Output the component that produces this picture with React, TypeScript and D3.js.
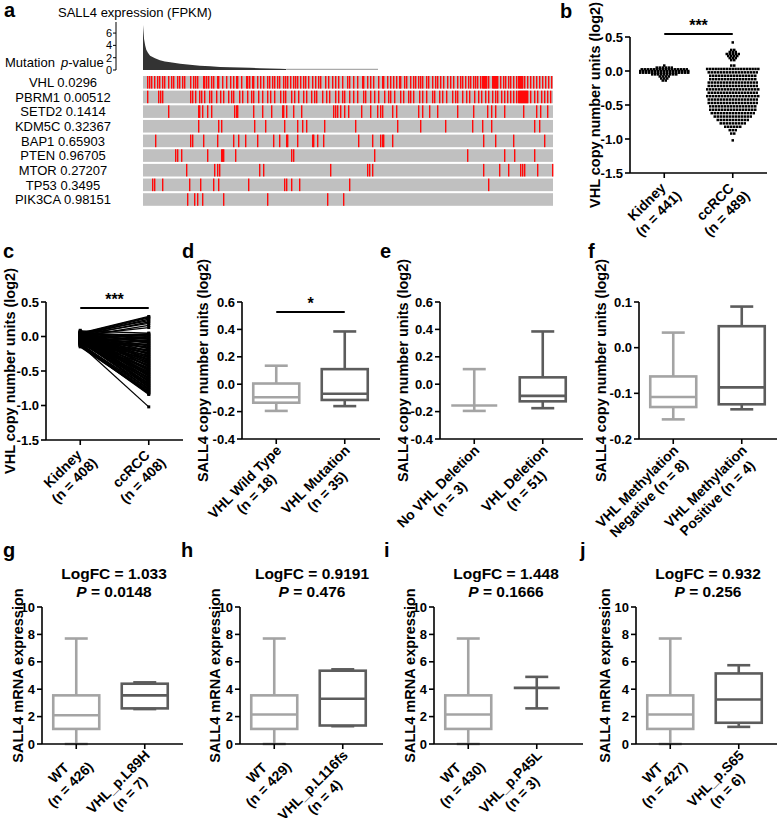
import React from "react";
import * as d3 from "d3";

const FONT = "Arial, 'Liberation Sans', Helvetica, sans-serif";
const LIGHT = "#a4a4a4";
const DARK = "#5c5c5c";

// ---------------- Panel a data ----------------
const exprRank = [0, 2, 4, 6, 9, 13, 22, 31, 40, 50, 68, 86, 104, 123, 141, 159, 178, 196, 214, 232, 251, 262];
const exprValue = [7.3, 5.0, 4.0, 3.3, 2.8, 2.3, 1.9, 1.6, 1.4, 1.25, 1.0, 0.85, 0.7, 0.6, 0.5, 0.45, 0.4, 0.35, 0.3, 0.25, 0.2, 0.15];
const exprSampleCount = 430;
const exprTicks = [0, 2, 4, 6];

const mutGenes = ["VHL", "PBRM1", "SETD2", "KDM5C", "BAP1", "PTEN", "MTOR", "TP53", "PIK3CA"];
const mutPValues = ["0.0296", "0.00512", "0.1414", "0.32367", "0.65903", "0.96705", "0.27207", "0.3495", "0.98151"];
const mutSampleCount = 410;
const mutVHL = [4, 6, 8, 11, 14, 16, 19, 21, 25, 28, 30, 34, 36, 39, 41, 47, 50, 52, 54, 60, 61, 63, 65, 68, 70, 74, 75, 79, 83, 87, 90, 93, 94, 98, 103, 104, 106, 109, 110, 114, 117, 120, 124, 126, 129, 131, 134, 136, 140, 142, 144, 147, 150, 152, 154, 157, 160, 162, 165, 169, 172, 175, 177, 182, 185, 189, 192, 195, 199, 204, 206, 210, 214, 219, 220, 224, 227, 230, 235, 239, 240, 244, 247, 250, 253, 256, 257, 261, 263, 267, 270, 272, 275, 277, 279, 283, 285, 289, 292, 294, 297, 300, 304, 307, 310, 314, 317, 319, 322, 325, 327, 330, 332, 334, 337, 339, 340, 341, 342, 343, 345, 349, 350, 351, 352, 353, 354, 357, 360, 362, 365, 367, 370, 373, 375, 376, 377, 378, 379, 381, 384, 387, 390, 393, 396, 399, 402, 405, 408];
const mutPBRM1 = [4, 15, 17, 19, 47, 49, 52, 56, 58, 61, 66, 68, 73, 77, 80, 85, 88, 90, 96, 99, 104, 108, 110, 115, 119, 124, 127, 131, 137, 140, 142, 148, 151, 155, 160, 163, 168, 171, 173, 179, 183, 186, 192, 195, 199, 201, 206, 210, 214, 220, 222, 227, 231, 235, 241, 245, 247, 251, 257, 260, 265, 267, 270, 276, 279, 283, 289, 291, 296, 299, 303, 309, 312, 314, 319, 323, 326, 331, 335, 338, 342, 345, 349, 352, 354, 358, 361, 364, 367, 370, 373, 375, 376, 377, 378, 379, 380, 381, 382, 383, 384, 387, 391, 394, 398, 401, 404, 407];
const mutSETD2 = [25, 55, 56, 59, 64, 68, 91, 93, 94, 110, 119, 128, 139, 140, 143, 150, 158, 190, 192, 194, 197, 201, 205, 218, 227, 234, 237, 239, 249, 253, 275, 279, 286, 294, 314, 330, 344, 348, 352, 361, 380, 393, 397, 404];
const mutKDM5C = [55, 75, 78, 111, 122, 141, 154, 159, 163, 181, 212, 254, 277, 302, 329, 339, 348, 391, 396];
const mutBAP1 = [12, 47, 49, 60, 74, 90, 95, 102, 114, 130, 136, 143, 144, 154, 169, 170, 174, 180, 215, 229, 237, 239, 240, 249, 340, 352, 370, 401];
const mutPTEN = [32, 34, 38, 64, 78, 79, 80, 92, 148, 150, 231, 324, 361, 371, 391];
const mutMTOR = [43, 71, 74, 76, 116, 120, 187, 224, 226, 229, 340, 356, 365, 377, 379, 381, 394, 409];
const mutTP53 = [9, 11, 19, 46, 57, 70, 75, 105, 141, 143, 148, 156, 206, 345];
const mutPIK3CA = [44, 51, 54, 59, 80, 124, 184, 200];
const mutRows = [mutVHL, mutPBRM1, mutSETD2, mutKDM5C, mutBAP1, mutPTEN, mutMTOR, mutTP53, mutPIK3CA];

// ---------------- Panel b data ----------------
const vhlTicks = [-1.5, -1.0, -0.5, 0.0, 0.5];
const bCats = [["Kidney", "(n = 441)"], ["ccRCC", "(n = 489)"]];
const bKidneyVals = [0.08, 0.05, 0.025, 0.0, -0.025, -0.05, -0.08, -0.11, -0.14];
const bKidneyCounts = [1, 6, 16, 17, 17, 9, 4, 3, 2];
const bCcrccVals = [0.42, 0.31, 0.28, 0.25, 0.22, 0.19, 0.16, 0.08, 0.03, -0.02, -0.07, -0.12, -0.17, -0.22, -0.27, -0.32, -0.37, -0.42, -0.47, -0.52, -0.57, -0.62, -0.67, -0.72, -0.77, -0.82, -0.87, -0.92, -1.02];
const bCcrccCounts = [1, 2, 3, 5, 4, 3, 2, 2, 19, 17, 16, 16, 17, 17, 18, 17, 18, 17, 17, 16, 16, 15, 13, 11, 9, 6, 3, 2, 1];

// ---------------- Panel c data (paired) ----------------
const cCats = [["Kidney", "(n = 408)"], ["ccRCC", "(n = 408)"]];
const cKidney = [
  0.05, 0.04, 0.03, 0.02, 0.04, 0.01, 0.03, 0.0, 0.02,
  0.08, -0.02, 0.03, -0.05, 0.0, 0.06, -0.08, 0.02, -0.04, 0.05, -0.1, 0.01, -0.06, 0.04, -0.03, 0.07, -0.09, 0.0, -0.05, 0.03,
  -0.07, 0.02, -0.02, 0.05, -0.11, 0.0, -0.04, 0.06, -0.08, 0.01, -0.03, 0.04, -0.1, -0.02, 0.03, -0.06, 0.0, -0.09, 0.02, -0.05,
  0.09, -0.01, 0.04, -0.06, 0.01, 0.05, -0.07, 0.03, -0.03, 0.06, -0.09, 0.0, -0.05, 0.02, -0.02, 0.07, -0.08, 0.01, -0.04, 0.04,
  -0.06, 0.03, -0.01, 0.05, -0.1, 0.01, -0.03, 0.05, -0.07, 0.0, -0.02, 0.03, -0.09, -0.03, 0.02, -0.05, -0.01, -0.08, 0.01, -0.04,
  -0.12, -0.07, -0.03, -0.1, -0.13, -0.11, -0.14, -0.15, -0.12, -0.13,
  -0.12,
];
const cCcrcc = [
  0.29, 0.28, 0.27, 0.25, 0.23, 0.21, 0.19, 0.16, 0.13,
  0.05, 0.04, 0.03, 0.02, 0.01, 0.0, -0.01, -0.02, -0.03, -0.04, -0.05, -0.06, -0.07, -0.08, -0.09, -0.1, -0.11, -0.12, -0.13, -0.14,
  -0.15, -0.16, -0.17, -0.18, -0.19, -0.2, -0.21, -0.22, -0.23, -0.24, -0.25, -0.26, -0.27, -0.28, -0.29, -0.3, -0.31, -0.32, -0.33, -0.34,
  -0.35, -0.36, -0.37, -0.38, -0.39, -0.4, -0.41, -0.42, -0.43, -0.44, -0.45, -0.46, -0.47, -0.48, -0.49, -0.5, -0.51, -0.52, -0.53, -0.54,
  -0.55, -0.56, -0.57, -0.58, -0.59, -0.6, -0.61, -0.62, -0.63, -0.64, -0.65, -0.66, -0.67, -0.68, -0.69, -0.7, -0.71, -0.72, -0.73, -0.74,
  -0.75, -0.76, -0.77, -0.78, -0.79, -0.8, -0.81, -0.82, -0.83, -0.84,
  -1.02,
];

// ---------------- Panels d-f data ----------------
const copyTicks = [-0.4, -0.2, 0.0, 0.2, 0.4, 0.6];
const methTicks = [-0.2, -0.1, 0.0, 0.1];
const dCats = [["VHL Wild Type", "(n = 18)"], ["VHL Mutation", "(n = 35)"]];
const dStats = [[-0.195, -0.135, -0.095, 0.005, 0.135], [-0.16, -0.115, -0.07, 0.11, 0.385]];
const eCats = [["No VHL Deletion", "(n = 3)"], ["VHL Deletion", "(n = 51)"]];
const eStats = [[-0.195, -0.155, -0.155, -0.155, 0.11], [-0.175, -0.125, -0.085, 0.05, 0.385]];
const fCats = [["VHL Methylation", "Negative (n = 8)"], ["VHL Methylation", "Positive (n = 4)"]];
const fStats = [[-0.157, -0.13, -0.108, -0.063, 0.033], [-0.135, -0.124, -0.087, 0.047, 0.09]];

// ---------------- Panels g-j data ----------------
const mrnaTicks = [0, 2, 4, 6, 8, 10];
const gCats = [["WT", "(n = 426)"], ["VHL_p.L89H", "(n = 7)"]];
const gStats = [[0, 1.1, 2.1, 3.55, 7.7], [2.55, 2.6, 3.55, 4.4, 4.5]];
const gTitle = ["1.033", "0.0148"];
const hCats = [["WT", "(n = 429)"], ["VHL_p.L116fs", "(n = 4)"]];
const hStats = [[0, 1.1, 2.15, 3.55, 7.7], [1.3, 1.35, 3.3, 5.35, 5.45]];
const hTitle = ["0.9191", "0.476"];
const iCats = [["WT", "(n = 430)"], ["VHL_p.P45L", "(n = 3)"]];
const iStats = [[0, 1.1, 2.15, 3.55, 7.7], [2.6, 4.1, 4.1, 4.1, 4.9]];
const iTitle = ["1.448", "0.1666"];
const jCats = [["WT", "(n = 427)"], ["VHL_p.S65", "(n = 6)"]];
const jStats = [[0, 1.1, 2.15, 3.55, 7.7], [1.25, 1.55, 3.25, 5.15, 5.75]];
const jTitle = ["0.932", "0.256"];

// ---------------- helpers ----------------
let _ctx: any = null;
function tw(s: string, font: string): number {
  if (!_ctx) _ctx = document.createElement("canvas").getContext("2d");
  _ctx.font = font;
  return _ctx.measureText(s).width;
}

const fmt1 = (v: number) => v.toFixed(1);
const fmt0 = (v: number) => String(v);

function CatLabel({ x, y, lines }: { x: number; y: number; lines: string[] }) {
  const fs = 14;
  const W = Math.max(...lines.map((l) => tw(l, `bold ${fs}px ${FONT}`)));
  return (
    <g transform={`translate(${x},${y}) rotate(-45)`}>
      {lines.map((l, i) => (
        <text key={i} x={-W / 2 - 1.5} y={10 + i * 16.5} textAnchor="middle" fontSize={fs} fontWeight="bold">
          {l}
        </text>
      ))}
    </g>
  );
}

type PanelProps = {
  ax: number;
  yTop: number;
  yBot: number;
  domain: [number, number];
  ticks: number[];
  fmt: (v: number) => string;
  xEnd: number;
  cats: string[][];
  ylabel: string;
  ylx: number;
  content: (y: d3.ScaleLinear<number, number>, xs: (i: number) => number) => React.ReactNode;
};

function Panel({ ax, yTop, yBot, domain, ticks, fmt, xEnd, cats, ylabel, ylx, content }: PanelProps) {
  const y = d3.scaleLinear().domain(domain).range([yBot, yTop]);
  const xp = d3.scalePoint<number>().domain(cats.map((_, i) => i)).range([ax, ax + 137]).padding(0.5);
  const xs = (i: number) => xp(i) as number;
  const sw = 1.6;
  return (
    <g>
      {content(y, xs)}
      <line x1={ax} x2={ax} y1={yTop} y2={yBot} stroke="#000" strokeWidth={sw} />
      <line x1={ax} x2={xEnd} y1={yBot} y2={yBot} stroke="#000" strokeWidth={sw} />
      {ticks.map((t) => (
        <g key={t}>
          <line x1={ax - 5} x2={ax} y1={y(t)} y2={y(t)} stroke="#000" strokeWidth={sw} />
          <text x={ax - 7} y={y(t)} dy="0.36em" textAnchor="end" fontSize={13} fontWeight="bold">
            {fmt(t)}
          </text>
        </g>
      ))}
      {cats.map((c, i) => (
        <g key={i}>
          <line x1={xs(i)} x2={xs(i)} y1={yBot} y2={yBot + 5} stroke="#000" strokeWidth={sw} />
          <CatLabel x={xs(i)} y={yBot + 4} lines={c} />
        </g>
      ))}
      <text
        transform={`translate(${ylx},${(yTop + yBot) / 2}) rotate(-90)`}
        textAnchor="middle"
        dy="0.36em"
        fontSize={14.5}
        fontWeight="bold"
      >
        {ylabel}
      </text>
    </g>
  );
}

function Box({ cx, y, s, color }: { cx: number; y: d3.ScaleLinear<number, number>; s: number[]; color: string }) {
  const [lo, q1, med, q3, hi] = s;
  const w = 46;
  const cap = 23;
  return (
    <g stroke={color} strokeWidth={2.6} fill="none">
      <line x1={cx} x2={cx} y1={y(hi)} y2={y(q3)} />
      <line x1={cx} x2={cx} y1={y(q1)} y2={y(lo)} />
      <line x1={cx - cap / 2} x2={cx + cap / 2} y1={y(hi)} y2={y(hi)} />
      <line x1={cx - cap / 2} x2={cx + cap / 2} y1={y(lo)} y2={y(lo)} />
      {q3 > q1 && <rect x={cx - w / 2} y={y(q3)} width={w} height={y(q1) - y(q3)} />}
      <line x1={cx - w / 2} x2={cx + w / 2} y1={y(med)} y2={y(med)} />
    </g>
  );
}

function SigBar({ x1, x2, yy, label }: { x1: number; x2: number; yy: number; label: string }) {
  return (
    <g>
      <line x1={x1} x2={x2} y1={yy} y2={yy} stroke="#000" strokeWidth={2} />
      <text x={(x1 + x2) / 2} y={yy - 3} textAnchor="middle" fontSize={16} fontWeight="bold">
        {label}
      </text>
    </g>
  );
}

function Swarm({ cx, y, vals, counts }: { cx: number; y: d3.ScaleLinear<number, number>; vals: number[]; counts: number[] }) {
  const out: React.ReactNode[] = [];
  vals.forEach((v, k) => {
    const n = counts[k];
    const sp = Math.min(3, 54 / n);
    for (let j = 0; j < n; j++) {
      const px = cx + (j - (n - 1) / 2) * sp;
      out.push(<rect key={`${k}-${j}`} x={px - 1.25} y={y(v) - 1.25} width={2.5} height={2.5} fill="#000" />);
    }
  });
  return <g>{out}</g>;
}

function MrnaPanel({ ax, ylx, xEnd, cats, stats, title }: { ax: number; ylx: number; xEnd: number; cats: string[][]; stats: number[][]; title: string[] }) {
  const cx = ax + 72;
  return (
    <g>
      <text x={cx} y={579} textAnchor="middle" fontSize={15.5} fontWeight="bold">
        {"LogFC = " + title[0]}
      </text>
      <text x={cx} y={597} textAnchor="middle" fontSize={15.5} fontWeight="bold">
        <tspan fontStyle="italic">P</tspan>
        {" = " + title[1]}
      </text>
      <Panel
        ax={ax}
        yTop={607}
        yBot={744}
        domain={[0, 10]}
        ticks={mrnaTicks}
        fmt={fmt0}
        xEnd={xEnd}
        cats={cats}
        ylabel="SALL4 mRNA expression"
        ylx={ylx}
        content={(y, xs) => (
          <g>
            <Box cx={xs(0)} y={y} s={stats[0]} color={LIGHT} />
            <Box cx={xs(1)} y={y} s={stats[1]} color={DARK} />
          </g>
        )}
      />
    </g>
  );
}

function PanelA() {
  const xe = d3.scaleLinear().domain([0, exprSampleCount]).range([143, 378]);
  const ye = d3.scaleLinear().domain([0, 7.8]).range([70, 22]);
  const area = d3
    .area<number>()
    .x((_, i) => xe(exprRank[i]))
    .y0(ye(0))
    .y1((d) => ye(d));
  const xm = d3.scaleLinear().domain([0, mutSampleCount]).range([143, 553]);
  const rowTop = (r: number) => 76 + r * 14.65;
  const rowH = 12.6;
  return (
    <g>
      <text x={58} y={17} fontSize={13}>SALL4 expression (FPKM)</text>
      <line x1={116} x2={116} y1={22} y2={70} stroke="#000" strokeWidth={1} />
      {exprTicks.map((t) => (
        <g key={t}>
          <line x1={113} x2={116} y1={ye(t)} y2={ye(t)} stroke="#000" strokeWidth={1} />
          <text x={112} y={ye(t)} dy="0.36em" textAnchor="end" fontSize={11}>
            {t}
          </text>
        </g>
      ))}
      <path d={area(exprValue) as string} fill="#333" />
      <line x1={xe(exprRank[exprRank.length - 1])} x2={xe(exprSampleCount)} y1={69.4} y2={69.4} stroke="#aaa" strokeWidth={1.4} />
      <text x={5} y={67} fontSize={13}>Mutation</text>
      <text x={61} y={67} fontSize={13}>
        <tspan fontStyle="italic">p</tspan>-value
      </text>
      {mutGenes.map((g, r) => (
        <g key={g}>
          <text x={63} y={rowTop(r) + rowH / 2} dy="0.36em" textAnchor="middle" fontSize={13}>
            {g + "  " + mutPValues[r]}
          </text>
          <rect x={xm(0)} y={rowTop(r)} width={xm(mutSampleCount) - xm(0)} height={rowH} fill="#c0c0c0" />
          {mutRows[r].map((s) => (
            <rect key={s} x={xm(s)} y={rowTop(r)} width={1.4} height={rowH} fill="#ff0a0a" />
          ))}
        </g>
      ))}
    </g>
  );
}

export default function App() {
  return (
    <svg
      width={778}
      height={818}
      viewBox="0 0 778 818"
      style={{ position: "absolute", left: 0, top: 0, background: "#fff" }}
      fontFamily={FONT}
    >
      <rect x={0} y={0} width={778} height={818} fill="#fff" />
      {[
        ["a", 4, 17],
        ["b", 560, 18],
        ["c", 3, 258],
        ["d", 182, 258],
        ["e", 380, 258],
        ["f", 588, 258],
        ["g", 3, 557],
        ["h", 181, 557],
        ["i", 384, 557],
        ["j", 580, 557],
      ].map(([t, x, yy]) => (
        <text key={t as string} x={x as number} y={yy as number} fontSize={20} fontWeight="bold">
          {t}
        </text>
      ))}

      <PanelA />

      <Panel
        ax={630}
        yTop={37}
        yBot={173}
        domain={[-1.5, 0.5]}
        ticks={vhlTicks}
        fmt={fmt1}
        xEnd={767}
        cats={bCats}
        ylabel="VHL copy number units (log2)"
        ylx={595}
        content={(y, xs) => (
          <g>
            <Swarm cx={xs(0)} y={y} vals={bKidneyVals} counts={bKidneyCounts} />
            <Swarm cx={xs(1)} y={y} vals={bCcrccVals} counts={bCcrccCounts} />
            <SigBar x1={xs(0)} x2={xs(1)} yy={34} label="***" />
          </g>
        )}
      />

      <Panel
        ax={46}
        yTop={302}
        yBot={440}
        domain={[-1.5, 0.5]}
        ticks={vhlTicks}
        fmt={fmt1}
        xEnd={183}
        cats={cCats}
        ylabel="VHL copy number units (log2)"
        ylx={10}
        content={(y, xs) => (
          <g>
            {cKidney.map((k, i) => (
              <line key={i} x1={xs(0)} x2={xs(1)} y1={y(k)} y2={y(cCcrcc[i])} stroke="#000" strokeWidth={1.3} />
            ))}
            {cKidney.map((k, i) => (
              <rect key={"k" + i} x={xs(0) - 1.5} y={y(k) - 1.5} width={3} height={3} fill="#000" />
            ))}
            {cCcrcc.map((k, i) => (
              <rect key={"c" + i} x={xs(1) - 1.5} y={y(k) - 1.5} width={3} height={3} fill="#000" />
            ))}
            <SigBar x1={xs(0)} x2={xs(1)} yy={308} label="***" />
          </g>
        )}
      />

      <Panel
        ax={242}
        yTop={302}
        yBot={439}
        domain={[-0.4, 0.6]}
        ticks={copyTicks}
        fmt={fmt1}
        xEnd={380}
        cats={dCats}
        ylabel="SALL4 copy number units (log2)"
        ylx={203}
        content={(y, xs) => (
          <g>
            <Box cx={xs(0)} y={y} s={dStats[0]} color={LIGHT} />
            <Box cx={xs(1)} y={y} s={dStats[1]} color={DARK} />
            <SigBar x1={xs(0)} x2={xs(1)} yy={312} label="*" />
          </g>
        )}
      />

      <Panel
        ax={440}
        yTop={302}
        yBot={439}
        domain={[-0.4, 0.6]}
        ticks={copyTicks}
        fmt={fmt1}
        xEnd={583}
        cats={eCats}
        ylabel="SALL4 copy number units (log2)"
        ylx={403}
        content={(y, xs) => (
          <g>
            <Box cx={xs(0)} y={y} s={eStats[0]} color={LIGHT} />
            <Box cx={xs(1)} y={y} s={eStats[1]} color={DARK} />
          </g>
        )}
      />

      <Panel
        ax={639}
        yTop={302}
        yBot={439}
        domain={[-0.2, 0.1]}
        ticks={methTicks}
        fmt={fmt1}
        xEnd={777}
        cats={fCats}
        ylabel="SALL4 copy number units (log2)"
        ylx={601}
        content={(y, xs) => (
          <g>
            <Box cx={xs(0)} y={y} s={fStats[0]} color={LIGHT} />
            <Box cx={xs(1)} y={y} s={fStats[1]} color={DARK} />
          </g>
        )}
      />

      <MrnaPanel ax={42} ylx={18} xEnd={183} cats={gCats} stats={gStats} title={gTitle} />
      <MrnaPanel ax={240} ylx={215} xEnd={383} cats={hCats} stats={hStats} title={hTitle} />
      <MrnaPanel ax={434} ylx={410} xEnd={583} cats={iCats} stats={iStats} title={iTitle} />
      <MrnaPanel ax={636} ylx={605} xEnd={777} cats={jCats} stats={jStats} title={jTitle} />
    </svg>
  );
}
